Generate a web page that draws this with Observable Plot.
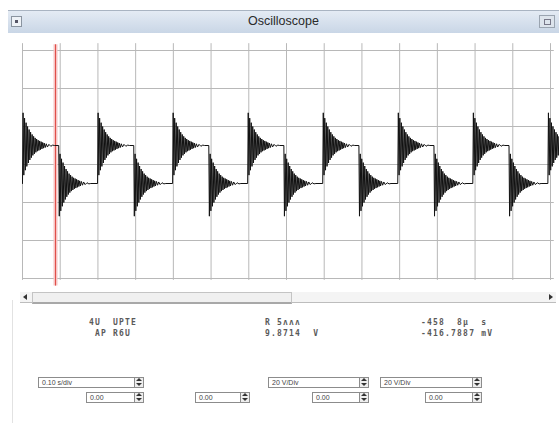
<!DOCTYPE html>
<html>
<head>
<meta charset="utf-8">
<script src="https://cdn.jsdelivr.net/npm/d3@7"></script>
<script src="https://cdn.jsdelivr.net/npm/@observablehq/plot@0.6"></script>
<style>
  html, body { margin:0; padding:0; background:#fff; }
  body { width:559px; height:423px; position:relative; overflow:hidden; font-family:"Liberation Sans", Arial, sans-serif; }
  #chart { position:absolute; left:0; top:0; }
  .titlebar { position:absolute; left:8px; top:10px; width:551px; height:22px;
    background:linear-gradient(#e4ebf4,#c9d6e6); border-top:1px solid #a9b4c2; }
  .titlebar .t { position:absolute; left:0; right:0; top:3px; text-align:center; font-size:12.5px; color:#2a2a2a; }
  .btnL { position:absolute; left:3px; top:5px; width:9px; height:9px; border:1px solid #8a94a0; background:#eef2f7; }
  .btnL:after { content:""; position:absolute; left:3px; top:3px; width:3px; height:3px; background:#556; }
  .btnR { position:absolute; left:531px; top:4px; width:14px; height:11px; border:1px solid #9aa4b0; background:#dde4ec; }
  .btnR:after { content:""; position:absolute; left:4px; top:3px; width:5px; height:4px; border:1px solid #778; }
  .frameL { position:absolute; left:12px; top:300px; width:1px; height:123px; background:#e2e2e2; }
  .scroll { position:absolute; left:20px; top:292px; width:536px; height:10px; background:#f4f4f4; border-bottom:1px solid #bdbdbd; }
  .scroll .thumb { position:absolute; left:12px; top:0; width:258px; height:9px; background:#f0f0f0; border:1px solid #c4c4c4; border-bottom:2px solid #a8a8a8; }
  .tri { position:absolute; width:0; height:0; }
  .ro { position:absolute; font-family:"DejaVu Sans Mono", monospace; font-size:8px; font-weight:bold; color:#5a5a5a; line-height:11px; white-space:pre; letter-spacing:1.2px; }
  .box { position:absolute; height:9px; border:1px solid #8c8c8c; background:#fff; font-size:7px; color:#444; line-height:9px; padding-left:3px; box-sizing:content-box; }
  .spin { position:absolute; width:8px; height:9px; border:1px solid #8c8c8c; background:#eee; }
  .spin:before { content:""; position:absolute; left:1px; top:0px; border-left:3px solid transparent; border-right:3px solid transparent; border-bottom:3px solid #333; }
  .spin:after { content:""; position:absolute; left:1px; top:5px; border-left:3px solid transparent; border-right:3px solid transparent; border-top:3px solid #333; }
</style>
</head>
<body>
<div id="chart"></div>
<div class="titlebar"><div class="btnL"></div><div class="t">Oscilloscope</div><div class="btnR"></div></div>
<div class="frameL"></div>
<div class="scroll">
  <div class="tri" style="left:3px;top:2px;border-top:3px solid transparent;border-bottom:3px solid transparent;border-right:4px solid #333"></div>
  <div class="thumb"></div>
  <div class="tri" style="left:529px;top:2px;border-top:3px solid transparent;border-bottom:3px solid transparent;border-left:4px solid #333"></div>
</div>

<div class="ro" style="left:89px;top:317px">4U  UPTE
 AP R6U</div>
<div class="ro" style="left:265px;top:317px">R 5ʌʌʌ
9.8714  V</div>
<div class="ro" style="left:421px;top:317px">-458  8μ  s
-416.7887 mV</div>

<div class="box" style="left:38px;top:377px;width:92px">0.10 s/div</div>
<div class="spin" style="left:134px;top:377px"></div>
<div class="box" style="left:86px;top:392px;width:44px">0.00</div>
<div class="spin" style="left:134px;top:392px"></div>
<div class="box" style="left:195px;top:392px;width:42px">0.00</div>
<div class="spin" style="left:240px;top:392px"></div>
<div class="box" style="left:268px;top:377px;width:88px">20 V/Div</div>
<div class="spin" style="left:359px;top:377px"></div>
<div class="box" style="left:312px;top:392px;width:44px">0.00</div>
<div class="spin" style="left:359px;top:392px"></div>
<div class="box" style="left:380px;top:377px;width:88px">20 V/Div</div>
<div class="spin" style="left:472px;top:377px"></div>
<div class="box" style="left:425px;top:392px;width:44px">0.00</div>
<div class="spin" style="left:472px;top:392px"></div>

<script>
// Time axis in divisions, voltage in divisions
const risingEdges  = [0.0, 1.99, 3.98, 5.97, 7.96, 9.95, 11.94, 13.93];
const fallingEdges = [0.96, 2.95, 4.94, 6.93, 8.92, 10.91, 12.90];
const highLevel = 0.5;
const lowLevel = -0.5;
// ringing after each edge: time offset (div) and deviation from new level (div, in edge direction)
const ringT = [0, 0.015, 0.035, 0.055, 0.075, 0.095, 0.115, 0.135, 0.155, 0.175,
  0.195, 0.215, 0.235, 0.255, 0.275, 0.295, 0.315, 0.335, 0.355, 0.375,
  0.395, 0.415, 0.435, 0.455, 0.475, 0.495, 0.515, 0.535, 0.555, 0.575,
  0.6, 0.63, 0.66, 0.7, 0.75, 0.8, 0.85];
const ringV = [-1.0, 0.86, -0.78, 0.72, -0.65, 0.60, -0.55, 0.50, -0.46, 0.42,
  -0.38, 0.35, -0.32, 0.29, -0.26, 0.24, -0.22, 0.20, -0.18, 0.17,
  -0.15, 0.14, -0.13, 0.12, -0.11, 0.10, -0.09, 0.08, -0.07, 0.065,
  -0.055, 0.045, -0.04, 0.03, -0.02, 0.01, 0];
const gridX = [0,1,2,3,4,5,6,7,8,9,10,11,12,13,14];
const gridY = [-3,-2,-1,0,1,2,3];
const cursorX = 0.875;

const edges = [
  ...risingEdges.map(t => ({t, level: highLevel, s: 1})),
  ...fallingEdges.map(t => ({t, level: lowLevel, s: -1}))
].sort((a, b) => a.t - b.t);

const wave = [];
edges.forEach(e => {
  ringT.forEach((dt, i) => wave.push({t: e.t + dt, v: e.level + e.s * ringV[i]}));
});
wave.push({t: 14.4, v: highLevel});

const chart = Plot.plot({
  width: 559,
  height: 300,
  marginLeft: 22,
  marginRight: 9,
  marginTop: 50,
  marginBottom: 22,
  style: {background: "transparent"},
  x: {domain: [0, 14], axis: null},
  y: {domain: [-3, 3], axis: null},
  marks: [
    Plot.ruleX(gridX, {x: d => d, y1: -3.05, y2: 3.18, stroke: "#b8b8b8", strokeWidth: 1}),
    Plot.ruleY(gridY, {y: d => d, x1: 0, x2: 14.1, stroke: "#b8b8b8", strokeWidth: 1}),
    Plot.ruleX([cursorX], {x: d => d, y1: -3.2, y2: 3.15, stroke: "#f6c4c4", strokeWidth: 4}),
    Plot.ruleX([cursorX], {x: d => d, y1: -3.2, y2: 3.15, stroke: "#e0504a", strokeWidth: 1}),
    Plot.line(wave, {x: "t", y: "v", stroke: "#111", strokeWidth: 1})
  ]
});
document.getElementById("chart").appendChild(chart);
</script>
</body>
</html>
